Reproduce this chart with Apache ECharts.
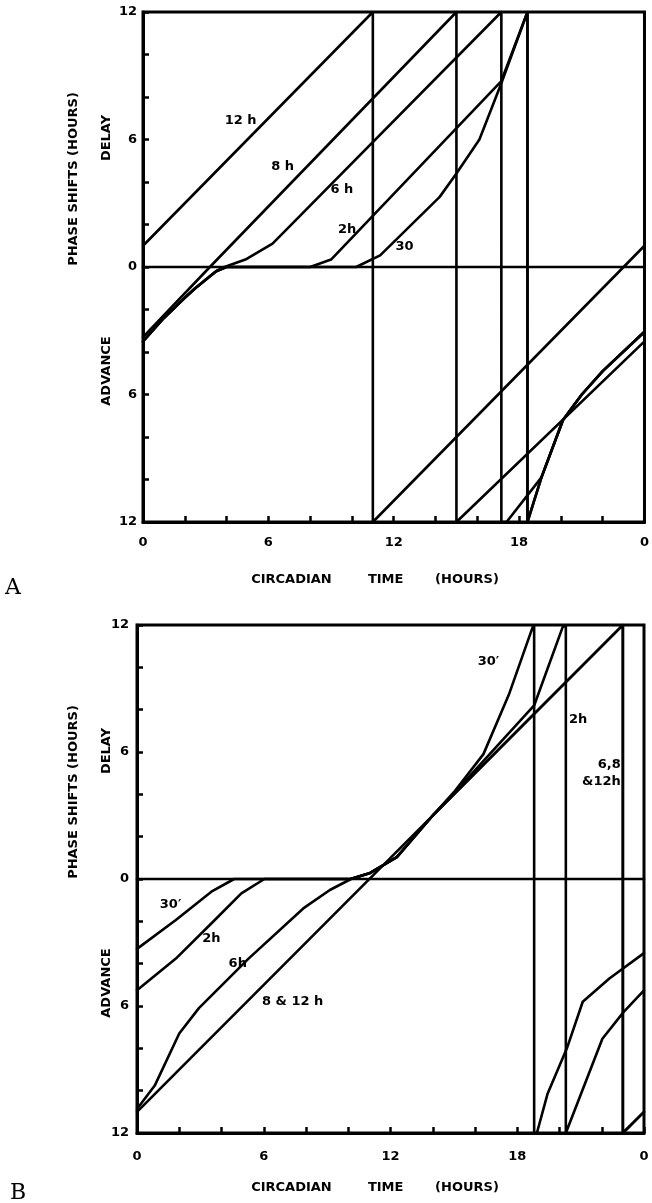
<!DOCTYPE html>
<html>
<head>
<meta charset="utf-8">
<script src="https://cdn.jsdelivr.net/npm/echarts@6/dist/echarts.min.js"></script>
<style>
html,body{margin:0;padding:0;background:#fff;}
#chart{width:652px;height:1203px;}
</style>
</head>
<body>
<div id="chart"></div>
<script>
// ---------- DATA ----------
// x: circadian time (hours, 0-24); y: phase shift (hours, + = delay, - = advance)
const xTickValues = [0, 6, 12, 18, 24];
const xTickLabels = ['0', '6', '12', '18', '0'];
const yTickValues = [12, 6, 0, -6, -12];
const yTickLabels = ['12', '6', '0', '6', '12'];
const zeroLine = [[0, 0], [24, 0]];

// Panel A curves
const A_12h = [[0, 1], [11, 12], [11, -12], [24, 1]];
const A_8h = [[0, -3.3], [3.2, 0], [15, 12], [15, -12], [24, -3.5]];
const A_6h = [[0, -3.5], [1, -2.4], [2, -1.45], [2.5, -1.0], [3, -0.6], [3.5, -0.2], [3.9, 0], [4.9, 0.35], [6.2, 1.1], [16.95, 11.8], [17.15, 12], [17.15, -12], [17.4, -12], [19.07, -9.9], [20.1, -7.2], [21, -6.0], [22, -4.9], [24, -3.05]];
const A_2h = [[0, -3.5], [1, -2.4], [2, -1.45], [2.5, -1.0], [3, -0.6], [3.5, -0.2], [4, 0], [8, 0], [9, 0.35], [17.15, 8.75], [18.4, 12], [18.4, -12], [19.07, -9.9], [20.1, -7.2], [21, -6.0], [22, -4.9], [24, -3.05]];
const A_30m = [[0, -3.5], [1, -2.4], [2, -1.45], [2.5, -1.0], [3, -0.6], [3.5, -0.2], [4, 0], [10.2, 0], [11.35, 0.55], [14.2, 3.3], [15, 4.4], [16.1, 6.0], [17.15, 8.65], [18.4, 12], [18.4, -12], [19.07, -9.9], [20.1, -7.2], [21, -6.0], [22, -4.9], [24, -3.05]];
const A_labels = [
  { text: '12 h', t: 4.67, v: 6.87 },
  { text: '8 h', t: 6.68, v: 4.74 },
  { text: '6 h', t: 9.52, v: 3.63 },
  { text: '2h', t: 9.77, v: 1.74 },
  { text: '30', t: 12.52, v: 0.95 }
];

// Panel B curves
const B_30m = [[0, -3.3], [1.84, -1.94], [3.52, -0.6], [4.6, 0], [10.1, 0], [11.0, 0.27], [12.3, 1.03], [14, 3.0], [15, 4.1], [16.4, 5.9], [17.6, 8.7], [18.73, 11.9], [18.8, 12], [18.8, -12], [18.93, -12], [19.43, -10.16], [20.35, -8.0], [21.1, -5.8], [22.36, -4.7], [24, -3.5]];
const B_2h = [[0, -5.26], [1.84, -3.76], [3.6, -2.02], [4.94, -0.68], [6.03, 0], [10.1, 0], [11.0, 0.27], [12.3, 1.03], [14, 3.0], [15, 4.05], [18.8, 8.2], [20.15, 11.9], [20.3, 12], [20.3, -12], [20.35, -12], [22.03, -7.55], [23.03, -6.29], [24, -5.26]];
const B_6h = [[0, -10.87], [0.84, -9.76], [2.0, -7.3], [2.93, -6.1], [5.28, -3.76], [7.87, -1.39], [9.13, -0.52], [10.13, 0], [11.0, 0.27], [12.3, 1.03], [14, 3.0], [22.9, 11.9], [23, 12], [23, -12], [24, -11]];
const B_8_12h = [[0, -11], [22.9, 11.9], [23, 12], [23, -12], [24, -11]];
const B_labels = [
  { text: '30\u2032', t: 16.64, v: 10.25, align: 'center' },
  { text: '2h', t: 20.45, v: 7.55, align: 'left' },
  { text: '6,8\n&12h', t: 22.9, v: 5.0, align: 'right' },
  { text: '30\u2032', t: 1.59, v: -1.23, align: 'center' },
  { text: '2h', t: 3.52, v: -2.81, align: 'center' },
  { text: '6h', t: 4.77, v: -4.0, align: 'center' },
  { text: '8 & 12 h', t: 7.37, v: -5.81, align: 'center' }
];

const xTitle = 'CIRCADIAN        TIME       (HOURS)';
const yTitle = 'PHASE SHIFTS (HOURS)';
const delayText = 'DELAY';
const advanceText = 'ADVANCE';
const panelNames = ['A', 'B'];

// ---------- LAYOUT ----------
const grids = [
  { left: 143, top: 12, width: 505, height: 510 },
  { left: 137, top: 625, width: 507, height: 508 }
];
const xLabelMargin = [14, 17];
const yLabelMargin = [6, 8];
const xTitleY = [580, 1188];
const panelLetterPos = [[13, 588], [18, 1193]];

const TICKFONT = "'DejaVu Sans', sans-serif";
const TFONT = "bold 13px 'DejaVu Sans', sans-serif";

function xAxis(i) {
  return {
    type: 'value', gridIndex: i, min: 0, max: 24, interval: 2,
    axisLine: { show: true, onZero: false, lineStyle: { color: '#000', width: 3 } },
    axisTick: { show: true, inside: true, length: 6, lineStyle: { color: '#000', width: 2.5 } },
    splitLine: { show: false },
    axisLabel: {
      color: '#000', fontFamily: TICKFONT, fontWeight: 'bold', fontSize: 13, margin: xLabelMargin[i],
      showMinLabel: true, showMaxLabel: true,
      formatter: function (v) {
        const k = xTickValues.indexOf(v);
        return k >= 0 ? xTickLabels[k] : '';
      }
    }
  };
}
function yAxis(i) {
  return {
    type: 'value', gridIndex: i, min: -12, max: 12, interval: 2,
    axisLine: { show: true, onZero: false, lineStyle: { color: '#000', width: 3 } },
    axisTick: { show: true, inside: true, length: 6, lineStyle: { color: '#000', width: 2.5 } },
    splitLine: { show: false },
    axisLabel: {
      color: '#000', fontFamily: TICKFONT, fontWeight: 'bold', fontSize: 13, margin: yLabelMargin[i],
      showMinLabel: true, showMaxLabel: true,
      formatter: function (v) {
        const k = yTickValues.indexOf(v);
        return k >= 0 ? yTickLabels[k] : '';
      }
    }
  };
}

function lineSeries(data, i) {
  return {
    type: 'line', xAxisIndex: i, yAxisIndex: i, data: data,
    showSymbol: false, symbol: 'none', smooth: false, silent: true,
    lineStyle: { color: '#000', width: 2.6, cap: 'round', join: 'round' }, z: 3,
    emphasis: { disabled: true }
  };
}
function labelSeries(items, i) {
  return {
    type: 'scatter', xAxisIndex: i, yAxisIndex: i, symbolSize: 1, silent: true, z: 5,
    itemStyle: { opacity: 0 },
    emphasis: { disabled: true },
    data: items.map(function (d) {
      return {
        name: d.text, value: [d.t, d.v],
        label: {
          show: true, position: 'inside', formatter: d.text,
          align: d.align || 'center', verticalAlign: 'middle',
          color: '#000', opacity: 1, textBorderWidth: 0,
          fontFamily: "'DejaVu Sans', sans-serif", fontWeight: 'bold', fontSize: 13, lineHeight: 17
        }
      };
    })
  };
}

const series = [];
[A_12h, A_8h, A_6h, A_2h, A_30m].forEach(function (d) { series.push(lineSeries(d, 0)); });
series.push(lineSeries(zeroLine, 0));
series.push(labelSeries(A_labels, 0));
[B_30m, B_2h, B_6h, B_8_12h].forEach(function (d) { series.push(lineSeries(d, 1)); });
series.push(lineSeries(zeroLine, 1));
series.push(labelSeries(B_labels, 1));

const graphics = [];
grids.forEach(function (g, i) {
  const zeroY = g.top + g.height / 2;
  graphics.push({ type: 'text', x: 375, y: xTitleY[i], style: { text: xTitle, font: TFONT, fill: '#000', textAlign: 'center', textVerticalAlign: 'middle' } });
  graphics.push({ type: 'text', x: panelLetterPos[i][0], y: panelLetterPos[i][1], style: { text: panelNames[i], font: "22px 'DejaVu Serif', 'Liberation Serif', serif", fill: '#000', textAlign: 'center', textVerticalAlign: 'middle' } });
  graphics.push({ type: 'text', x: 74, y: g.top + 167, rotation: Math.PI / 2, style: { text: yTitle, font: TFONT, fill: '#000', textAlign: 'center', textVerticalAlign: 'middle' } });
  graphics.push({ type: 'text', x: 107, y: g.top + 126, rotation: Math.PI / 2, style: { text: delayText, font: TFONT, fill: '#000', textAlign: 'center', textVerticalAlign: 'middle' } });
  graphics.push({ type: 'text', x: 107, y: zeroY + 104, rotation: Math.PI / 2, style: { text: advanceText, font: TFONT, fill: '#000', textAlign: 'center', textVerticalAlign: 'middle' } });
});

const chart = echarts.init(document.getElementById('chart'), null, { renderer: 'canvas', width: 652, height: 1203 });
chart.setOption({
  animation: false,
  backgroundColor: '#fff',
  grid: grids.map(function (g) {
    return Object.assign({ show: true, borderColor: '#000', borderWidth: 3, backgroundColor: 'transparent', containLabel: false }, g);
  }),
  xAxis: [xAxis(0), xAxis(1)],
  yAxis: [yAxis(0), yAxis(1)],
  series: series,
  graphic: graphics
});
</script>
</body>
</html>
